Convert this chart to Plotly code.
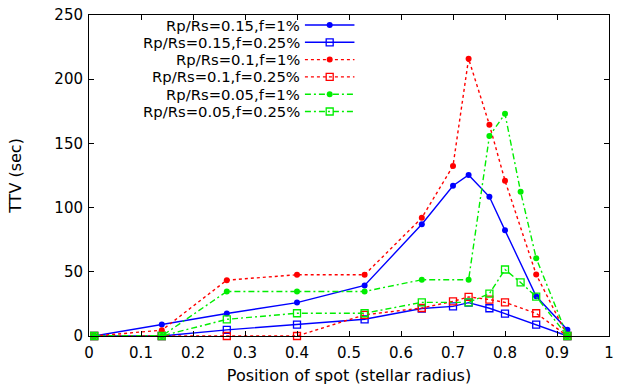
import plotly.graph_objects as go

# ---- data ----
x_main = [0.01, 0.14, 0.265, 0.40, 0.53, 0.64, 0.70, 0.73, 0.77, 0.80, 0.86, 0.92]
x_green = [0.01, 0.14, 0.265, 0.40, 0.53, 0.64, 0.73, 0.77, 0.80, 0.83, 0.86, 0.92]

blue_dot = [0, 9, 17.5, 26, 39.4, 87, 117, 125.4, 108.4, 82.3, 30.9, 4.8]
blue_sq = [0, 0, 4.8, 8.9, 13, 21.4, 23.1, 26, 21.6, 17.4, 8.9, 0]
red_dot = [0, 4.5, 43.5, 47.7, 47.7, 92, 132.4, 215.9, 164.5, 121, 47.9, 0]
red_sq = [0, 0, 0, 0, 16.5, 21.8, 27, 30.4, 28.4, 26.2, 17.7, 0]
green_dot = [0, 0, 34.7, 34.7, 34.7, 43.8, 43.8, 155.7, 173, 112.3, 60.6, 0]
green_sq = [0, 0, 13, 17.7, 17.7, 26.2, 26.2, 33, 51.8, 41.7, 30.6, 0]

names = ["Rp/Rs=0.15,f=1%", "Rp/Rs=0.15,f=0.25%", "Rp/Rs=0.1,f=1%",
         "Rp/Rs=0.1,f=0.25%", "Rp/Rs=0.05,f=1%", "Rp/Rs=0.05,f=0.25%"]

x_ticks = [0, 0.1, 0.2, 0.3, 0.4, 0.5, 0.6, 0.7, 0.8, 0.9, 1]
x_tick_labels = ["0", "0.1", "0.2", "0.3", "0.4", "0.5", "0.6", "0.7", "0.8", "0.9", "1"]
y_ticks = [0, 50, 100, 150, 200, 250]

# ---- styles ----
BLUE, RED, GREEN = "#0000ff", "#ff0000", "#00ee00"
FONT = "DejaVu Sans"
series = [
    (x_main, blue_dot, BLUE, "solid", "circle"),
    (x_main, blue_sq, BLUE, "solid", "square-open"),
    (x_main, red_dot, RED, "dot", "circle"),
    (x_main, red_sq, RED, "dot", "square-open"),
    (x_green, green_dot, GREEN, "6px,3px,2px,3px", "circle"),
    (x_green, green_sq, GREEN, "6px,3px,2px,3px", "square-open"),
]

fig = go.Figure()
for (xs, ys, col, dash, sym), nm in zip(series, names):
    open_ = sym.endswith("open")
    fig.add_trace(go.Scatter(
        x=xs, y=ys, name=nm, mode="lines+markers", cliponaxis=False,
        line=dict(color=col, width=1.4, dash=dash),
        marker=dict(symbol=sym, size=7 if open_ else 6, color=col,
                    line=dict(color=col, width=1.3 if open_ else 0)),
        showlegend=False,
    ))

# ---- manual legend (text right-aligned, sample on the right, gnuplot style) ----
W, H = 619, 386
ML, MR, MT, MB = 89, 5, 15, 50
pw, ph = W - ML - MR, H - MT - MB
row_y0, row_dy = 25, 17.3
sx0, sx1, text_right = 307, 357, 303
for i, ((xs, ys, col, dash, sym), nm) in enumerate(zip(series, names)):
    ypix = row_y0 + i * row_dy
    yf = 1 - (ypix - MT) / ph
    x0f, x1f = (sx0 - ML) / pw, (sx1 - ML) / pw
    open_ = sym.endswith("open")
    fig.add_trace(go.Scatter(
        x=[x0f, (x0f + x1f) / 2, x1f], y=[yf, yf, yf], xaxis="x2", yaxis="y2",
        mode="lines", line=dict(color=col, width=1.4, dash=dash),
        showlegend=False, hoverinfo="skip"))
    fig.add_trace(go.Scatter(
        x=[(x0f + x1f) / 2], y=[yf], xaxis="x2", yaxis="y2", mode="markers",
        marker=dict(symbol=sym, size=7 if open_ else 6, color=col,
                    line=dict(color=col, width=1.3 if open_ else 0)),
        showlegend=False, hoverinfo="skip"))
    fig.add_annotation(x=(text_right - ML) / pw, y=yf, xref="x2", yref="y2",
                       text=nm, showarrow=False, xanchor="right", yanchor="middle",
                       borderpad=0,
                       font=dict(family=FONT, size=14.8, color="black"))

axis_common = dict(showline=True, linecolor="black", linewidth=1, mirror="allticks",
                   ticks="inside", ticklen=5, tickcolor="black", showgrid=False,
                   zeroline=False, tickfont=dict(family=FONT, size=15, color="black"))

fig.update_layout(
    width=W, height=H, margin=dict(l=ML, r=MR, t=MT, b=MB),
    plot_bgcolor="white", paper_bgcolor="white",
    xaxis=dict(range=[0, 1], tickvals=x_ticks, ticktext=x_tick_labels,
               ticklabelstandoff=3,
               title=dict(text="Position of spot (stellar radius)", standoff=8,
                          font=dict(family=FONT, size=16, color="black")),
               **axis_common),
    yaxis=dict(range=[0, 250], tickvals=y_ticks, ticklabelstandoff=2,
               title=dict(text="TTV (sec)", standoff=28,
                          font=dict(family=FONT, size=16, color="black")),
               **axis_common),
    xaxis2=dict(range=[0, 1], overlaying="x", visible=False, domain=[0, 1]),
    yaxis2=dict(range=[0, 1], overlaying="y", visible=False),
)

fig.write_html("out.html")
